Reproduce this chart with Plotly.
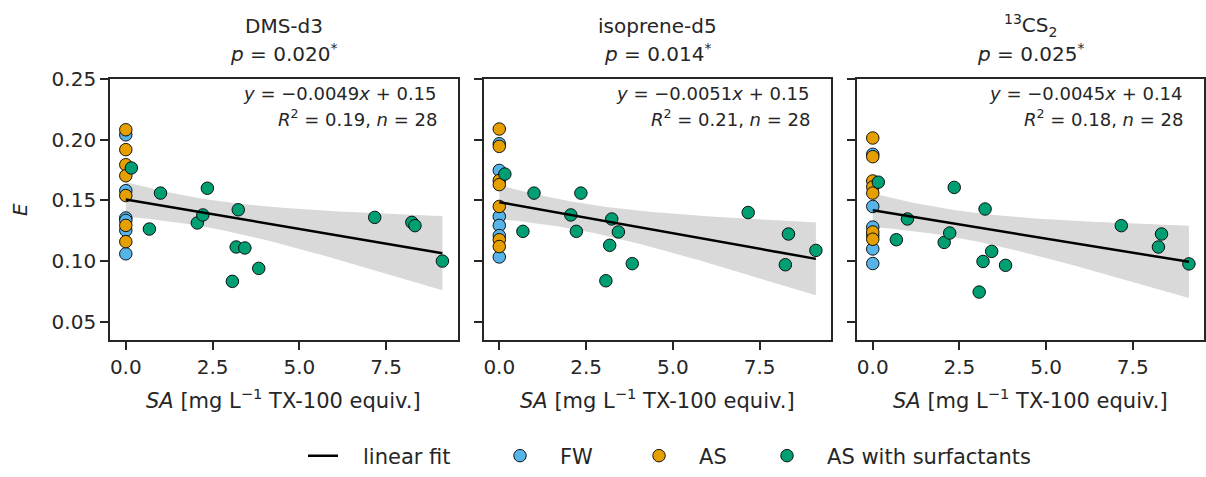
import numpy as np
import plotly.graph_objects as go

# ---------------- data ----------------
titles = ["DMS-d3", "isoprene-d5", "<sup>13</sup>CS<sub>2</sub>"]
p_values = ["0.020", "0.014", "0.025"]
fit_texts = ["−0.0049", "−0.0051", "−0.0045"]
intercept_texts = ["0.15", "0.15", "0.14"]
r2_texts = ["0.19", "0.21", "0.18"]
n_text = "28"

sa_fw = [0.0, 0.0, 0.0, 0.0, 0.0, 0.0]
sa_as = [0.0, 0.0, 0.0, 0.0, 0.0, 0.0, 0.0]
sa_surf = [0.16, 0.68, 1.0, 2.06, 2.22, 2.35, 3.07, 3.18, 3.24, 3.43, 3.83, 7.17, 8.24, 8.33, 9.12]

E_fw_dms = [0.204, 0.158, 0.1355, 0.1335, 0.1253, 0.106]
E_as_dms = [0.2082, 0.1918, 0.1794, 0.1703, 0.154, 0.1294, 0.116]
E_surf_dms = [0.1767, 0.1264, 0.156, 0.1314, 0.138, 0.160, 0.0833, 0.1116, 0.1423, 0.1108, 0.094, 0.136, 0.1319, 0.1292, 0.100]

E_fw_iso = [0.1967, 0.1747, 0.1368, 0.1294, 0.121, 0.1034]
E_as_iso = [0.2088, 0.1945, 0.1665, 0.163, 0.145, 0.1176, 0.112]
E_surf_iso = [0.1717, 0.1245, 0.156, 0.138, 0.1245, 0.156, 0.0838, 0.113, 0.1347, 0.124, 0.0979, 0.140, 0.097, 0.1223, 0.1088]

E_fw_cs2 = [0.188, 0.145, 0.128, 0.121, 0.110, 0.098]
E_as_cs2 = [0.2014, 0.186, 0.166, 0.161, 0.156, 0.124, 0.118]
E_surf_cs2 = [0.165, 0.1176, 0.1347, 0.1154, 0.1231, 0.1607, 0.0745, 0.0997, 0.1429, 0.108, 0.0965, 0.1292, 0.1116, 0.1223, 0.0977]

panels = [
    (E_fw_dms, E_as_dms, E_surf_dms),
    (E_fw_iso, E_as_iso, E_surf_iso),
    (E_fw_cs2, E_as_cs2, E_surf_cs2),
]

y_ticks = [0.05, 0.10, 0.15, 0.20, 0.25]
x_ticks = [0.0, 2.5, 5.0, 7.5]

# ---------------- style ----------------
W, H = 1206, 477
ML, MR, MT, MB = 110, 2, 79, 137
PW, PH = W - ML - MR, H - MT - MB
FONT = "DejaVu Sans"
TXT = "#262626"
C_FW, C_AS, C_SURF = "#56B4E9", "#E69F00", "#009E73"
BAND = "#d9d9d9"
NB = "\u00a0"

px_x = [(110, 457.5), (483.5, 831), (857, 1204)]


def fx(p):
    return (p - ML) / PW


def fy(p):
    return (H - MB - p) / PH


fig = go.Figure()
layout = dict()

for i, (efw, eas, esurf) in enumerate(panels):
    xa = "x" if i == 0 else f"x{i+1}"
    ya = "y" if i == 0 else f"y{i+1}"
    xall = np.array(sa_fw + sa_as + sa_surf)
    yall = np.array(efw + eas + esurf)
    n = len(xall)
    b, a = np.polyfit(xall, yall, 1)
    grid = np.linspace(xall.min(), xall.max(), 100)
    pred = a + b * grid
    resid = yall - (a + b * xall)
    s = np.sqrt(np.sum(resid ** 2) / (n - 2))
    sxx = np.sum((xall - xall.mean()) ** 2)
    t = 2.056
    se = s * np.sqrt(1 / n + (grid - xall.mean()) ** 2 / sxx)
    lo, hi = pred - t * se, pred + t * se

    fig.add_trace(go.Scatter(x=np.concatenate([grid, grid[::-1]]), y=np.concatenate([hi, lo[::-1]]),
                             fill="toself", fillcolor=BAND, line=dict(width=0), mode="lines",
                             hoverinfo="skip", showlegend=False, xaxis=xa, yaxis=ya))
    mk = dict(size=12.5, line=dict(color="black", width=0.9))
    fig.add_trace(go.Scatter(x=sa_fw, y=efw, mode="markers", name=NB * 3 + "FW", legendrank=2,
                             legendwidth=94,
                             marker=dict(color=C_FW, **mk), showlegend=(i == 0), xaxis=xa, yaxis=ya))
    fig.add_trace(go.Scatter(x=sa_as, y=eas, mode="markers", name=NB * 3 + "AS", legendrank=3,
                             legendwidth=83,
                             marker=dict(color=C_AS, **mk), showlegend=(i == 0), xaxis=xa, yaxis=ya))
    fig.add_trace(go.Scatter(x=sa_surf, y=esurf, mode="markers", name=NB * 3 + "AS with surfactants",
                             legendrank=4, marker=dict(color=C_SURF, **mk), showlegend=(i == 0),
                             xaxis=xa, yaxis=ya))
    fig.add_trace(go.Scatter(x=grid, y=pred, mode="lines", name=NB * 3 + "linear fit", legendrank=1,
                             legendwidth=152,
                             line=dict(color="black", width=2.5), showlegend=(i == 0), xaxis=xa, yaxis=ya))

    axis_common = dict(showline=True, mirror=True, linecolor=TXT, linewidth=1.7,
                       ticks="outside", ticklen=8, tickwidth=1.5, tickcolor=TXT,
                       showgrid=False, zeroline=False, automargin=False,
                       tickfont=dict(family=FONT, size=20, color=TXT))
    layout["xaxis" if i == 0 else f"xaxis{i+1}"] = dict(
        domain=[fx(px_x[i][0]), min(1.0, fx(px_x[i][1]))], anchor=ya, range=[-0.455, 9.555],
        tickvals=x_ticks, ticktext=[f"{v:.1f}" for v in x_ticks], **axis_common)
    layout["yaxis" if i == 0 else f"yaxis{i+1}"] = dict(
        domain=[0, 1], anchor=xa, range=[0.035, 0.25],
        tickvals=y_ticks, ticktext=[f"{v:.2f}" for v in y_ticks],
        showticklabels=(i == 0), **axis_common)

annotations = []
for i in range(3):
    cx = fx((px_x[i][0] + px_x[i][1]) / 2)
    annotations.append(dict(x=cx, y=fy(25.5), xref="paper", yref="paper", text=titles[i],
                            showarrow=False, font=dict(family=FONT, size=20, color=TXT),
                            xanchor="center", yanchor="middle"))
    annotations.append(dict(x=cx, y=fy(53), xref="paper", yref="paper",
                            text=f"<i>p</i> = {p_values[i]}<sup>*</sup>",
                            showarrow=False, font=dict(family=FONT, size=20, color=TXT),
                            xanchor="center", yanchor="middle"))
    rx = fx(px_x[i][1] - 19)
    annotations.append(dict(x=rx, y=fy(93), xref="paper", yref="paper",
                            text=f"<i>y</i> = {fit_texts[i]}<i>x</i> + {intercept_texts[i]}",
                            showarrow=False, font=dict(family=FONT, size=18, color=TXT),
                            xanchor="right", yanchor="middle"))
    annotations.append(dict(x=rx, y=fy(118), xref="paper", yref="paper",
                            text=f"<i>R</i><sup>2</sup> = {r2_texts[i]}, <i>n</i> = {n_text}",
                            showarrow=False, font=dict(family=FONT, size=18, color=TXT),
                            xanchor="right", yanchor="middle"))
    annotations.append(dict(x=cx, y=fy(399), xref="paper", yref="paper",
                            text="<i>SA</i> [mg L<sup>−1</sup> TX-100 equiv.]",
                            showarrow=False, font=dict(family=FONT, size=21, color=TXT),
                            xanchor="center", yanchor="middle"))
annotations.append(dict(x=fx(20), y=fy(210), xref="paper", yref="paper", text="<i>E</i>",
                        textangle=-90, showarrow=False, font=dict(family=FONT, size=20, color=TXT),
                        xanchor="center", yanchor="middle"))

fig.update_layout(
    width=W, height=H, autosize=False,
    margin=dict(l=ML, r=MR, t=MT, b=MB, autoexpand=False),
    paper_bgcolor="white", plot_bgcolor="white",
    font=dict(family=FONT, size=20, color=TXT),
    annotations=annotations,
    legend=dict(orientation="h", x=fx(303), y=fy(476.5), xanchor="left", yanchor="bottom",
                font=dict(family=FONT, size=21, color=TXT), bgcolor="rgba(0,0,0,0)"),
    **layout,
)

fig.write_html("out.html", config={"displayModeBar": False},
               post_script="document.body.style.margin='0';document.body.style.overflow='hidden';")
